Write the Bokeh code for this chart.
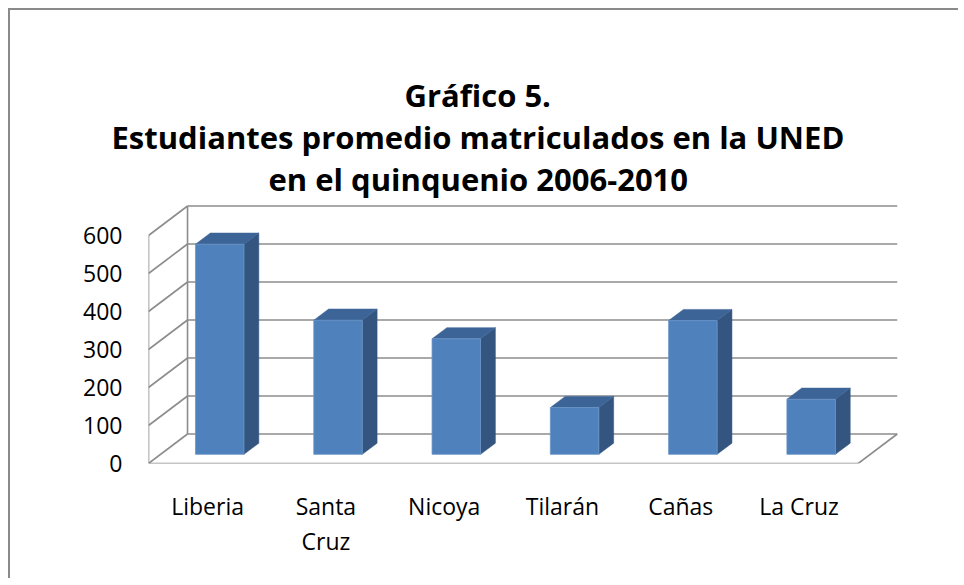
from bokeh.plotting import figure
from bokeh.models import FixedTicker, Range1d, Title
from bokeh.embed import file_html
from bokeh.resources import INLINE

# ---- data ----
categories = ["Liberia", "Santa Cruz", "Nicoya", "Tilarán", "Cañas", "La Cruz"]
category_labels = ["Liberia", "Santa\nCruz", "Nicoya", "Tilarán", "Cañas", "La Cruz"]
values = [553, 353, 304, 123, 352, 145]
y_ticks = [0, 100, 200, 300, 400, 500, 600]
title_lines = ["Gráfico 5.",
               "Estudiantes promedio matriculados en la UNED",
               "en el quinquenio 2006-2010"]

# ---- oblique (pseudo-3D) projection, in data units ----
DX = 0.33     # depth shift along x (category units)
DY = 77.6     # depth shift along y (value units)
GAP = 0.31    # depth before bar front face (fraction of depth)
BDEPTH = 0.38 # bar depth (fraction)
BW = 0.41     # bar width (category units)
n = len(categories)
vmax = y_ticks[-1]

FONT = "Open Sans"
GRID = "#8c8c8c"

p = figure(width=950, height=570, output_backend="svg", toolbar_location=None,
           x_range=Range1d(0, 6.4), y_range=Range1d(0, 692.1),
           min_border_left=138, min_border_right=55,
           min_border_top=190, min_border_bottom=117)
p.styles = {"margin-left": "8px", "margin-top": "8px",
            "border-left": "2px solid #8a8a8a", "border-top": "2px solid #8a8a8a"}
p.outline_line_color = None
p.xgrid.visible = False
p.ygrid.visible = False
p.background_fill_color = "white"
p.border_fill_color = "white"

# walls / floor lines
xs, ys = [], []
for v in y_ticks:
    xs.append([DX, n + DX]); ys.append([v + DY, v + DY])       # back wall gridline
    xs.append([0, DX]); ys.append([v, v + DY])                  # side wall diagonal
xs.append([0, 0]); ys.append([0, vmax])                         # front-left edge
xs.append([DX, DX]); ys.append([DY, vmax + DY])                 # back-left edge
xs.append([0, n]); ys.append([0, 0])                            # floor front edge
xs.append([n, n + DX]); ys.append([0, DY])                      # floor right edge
p.multi_line(xs, ys, line_color=GRID, line_width=1.6)

# bars
f1, f2 = GAP, GAP + BDEPTH
front_x, front_y, side_x, side_y, top_x, top_y = [], [], [], [], [], []
for i, v in enumerate(values):
    c = i + 0.5
    l, r = c - BW / 2, c + BW / 2
    x1, y1 = f1 * DX, f1 * DY
    x2, y2 = f2 * DX, f2 * DY
    front_x.append([l + x1, r + x1, r + x1, l + x1])
    front_y.append([y1, y1, v + y1, v + y1])
    side_x.append([r + x1, r + x2, r + x2, r + x1])
    side_y.append([y1, y2, v + y2, v + y1])
    top_x.append([l + x1, r + x1, r + x2, l + x2])
    top_y.append([v + y1, v + y1, v + y2, v + y2])

p.patches(side_x, side_y, fill_color="#33557f", line_color="#33557f", line_width=0.5)
p.patches(top_x, top_y, fill_color="#3c6497", line_color="#3c6497", line_width=0.5)
p.patches(front_x, front_y, fill_color="#4f81bd", line_color="#6a95c8", line_width=0.8)

# axes
p.yaxis.ticker = FixedTicker(ticks=y_ticks)
p.yaxis.axis_line_color = None
p.yaxis.major_tick_line_color = None
p.yaxis.minor_tick_line_color = None
p.yaxis.major_tick_out = 0
p.yaxis.major_tick_in = 0
p.yaxis.major_label_standoff = 26
p.yaxis.major_label_text_font = FONT
p.yaxis.major_label_text_font_size = "23px"
p.yaxis.major_label_text_color = "black"

centers = [i + 0.5 for i in range(n)]
p.xaxis.ticker = FixedTicker(ticks=centers)
p.xaxis.major_label_overrides = {c: lab for c, lab in zip(centers, category_labels)}
p.xaxis.axis_line_color = None
p.xaxis.major_tick_line_color = None
p.xaxis.minor_tick_line_color = None
p.xaxis.major_tick_out = 0
p.xaxis.major_tick_in = 0
p.xaxis.major_label_standoff = 26
p.xaxis.major_label_text_font = FONT
p.xaxis.major_label_text_font_size = "23px"
p.xaxis.major_label_text_line_height = 1.1
p.xaxis.major_label_text_color = "black"

# title lines (bottom line first so it sits nearest the plot);
# left-aligned with per-line offsets so the block is centred near x=478
standoffs = [2, -6, 2]
offsets = [256, -37, 120]
for line, so, off in reversed(list(zip(title_lines, standoffs, offsets))):
    p.add_layout(Title(text=line, align="left", offset=off, text_font=FONT,
                       text_font_style="bold", text_font_size="31px",
                       text_color="black", standoff=so), "above")

open("out.html", "w").write(file_html(p, INLINE))
